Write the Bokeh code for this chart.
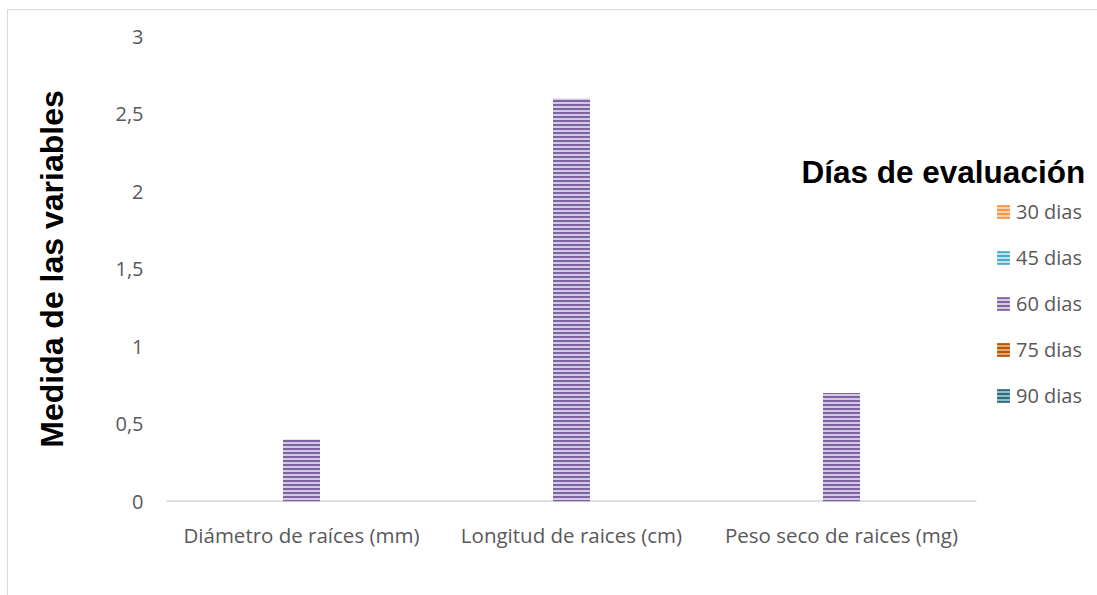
from bokeh.plotting import figure
from bokeh.models import (Range1d, Legend, LegendItem, Label, ColumnDataSource,
                          CustomJSTickFormatter, FixedTicker)
from bokeh.embed import file_html
from bokeh.resources import INLINE

categories = ["Diámetro de raíces (mm)", "Longitud de raices (cm)", "Peso seco de raices (mg)"]
series_names = ["30 dias", "45 dias", "60 dias", "75 dias", "90 dias"]
d30 = [0, 0, 0]
d45 = [0, 0, 0]
d60 = [0.4, 2.6, 0.7]
d75 = [0, 0, 0]
d90 = [0, 0, 0]
y_ticks = [0, 0.5, 1, 1.5, 2, 2.5, 3]

y_title = "Medida de las variables"
legend_title = "Días de evaluación"

hatch_colors = ["#F79646", "#4BACC6", "#8064A2", "#B65708", "#2E6F81"]
fill_colors = ["#FBD0AE", "#BCE2EC", "#D3C9E2", "#E3A576", "#8FBAC6"]

n = len(categories)
centers = [i + 0.5 for i in range(n)]
series = [d30, d45, d60, d75, d90]

W, H = 1090, 586
left, right, top, bottom = 158, 0, 26, 95
px_per_cat = 270.0
x_end = (W - left - right) / px_per_cat

p = figure(x_range=Range1d(0, x_end), y_range=Range1d(0, 3),
           width=W, height=H, output_backend="svg", toolbar_location=None,
           min_border_left=left, min_border_right=right, min_border_top=top, min_border_bottom=bottom,
           margin=(9, 0, 0, 7),
           styles={"border-top": "1px solid #d9d9d9", "border-left": "1px solid #d9d9d9"})
p.outline_line_color = None
p.xgrid.grid_line_color = None
p.ygrid.grid_line_color = None

# axis baseline across the category area
p.segment(x0=[0], x1=[n], y0=[0], y1=[0], line_color="#BFBFBF", line_width=2)

bw = 0.137
renderers = []
for i, vals in enumerate(series):
    xs = [c + (i - 2) * bw for c in centers]
    src = ColumnDataSource(dict(x=xs, top=vals))
    r = p.vbar(x="x", top="top", width=bw, source=src,
               fill_color=fill_colors[i], line_color=None,
               hatch_pattern="horizontal_line", hatch_color=hatch_colors[i],
               hatch_scale=4, hatch_weight=2)
    renderers.append(r)

# Axes
p.yaxis.ticker = FixedTicker(ticks=y_ticks)
p.yaxis.formatter = CustomJSTickFormatter(code="return tick.toString().replace('.', ',');")
p.yaxis.axis_line_color = None
p.yaxis.major_tick_line_color = None
p.yaxis.minor_tick_line_color = None
p.yaxis.major_label_standoff = 17
p.yaxis.major_label_text_font = "Open Sans"
p.yaxis.major_label_text_font_size = "20px"
p.yaxis.major_label_text_color = "#595959"
p.yaxis.axis_label = y_title
p.yaxis.axis_label_text_font = "Liberation Sans"
p.yaxis.axis_label_text_font_style = "bold"
p.yaxis.axis_label_text_font_size = "32px"
p.yaxis.axis_label_text_color = "#000000"
p.yaxis.axis_label_standoff = 42

p.xaxis.ticker = FixedTicker(ticks=centers)
p.xaxis.major_label_overrides = {c: lab for c, lab in zip(centers, categories)}
p.xaxis.axis_line_color = None
p.xaxis.major_tick_line_color = None
p.xaxis.minor_tick_line_color = None
p.xaxis.major_label_standoff = 13
p.xaxis.major_label_text_font = "Open Sans"
p.xaxis.major_label_text_font_size = "20.5px"
p.xaxis.major_label_text_color = "#595959"

legend = Legend(items=[LegendItem(label=s, renderers=[r]) for s, r in zip(series_names, renderers)],
                location=(829, 92), orientation="vertical",
                glyph_width=16, glyph_height=17, label_standoff=5,
                label_height=26, spacing=19, padding=0, margin=0,
                label_text_font="Open Sans", label_text_font_size="20px",
                label_text_color="#595959",
                border_line_color=None, background_fill_alpha=0)
p.add_layout(legend)

p.add_layout(Label(x=2.3519, y=2.1226, text=legend_title, text_font="Liberation Sans",
                   text_font_style="bold", text_font_size="31.5px", text_color="#000000",
                   text_baseline="alphabetic", text_align="left"))

open("out.html", "w").write(file_html(p, INLINE))
